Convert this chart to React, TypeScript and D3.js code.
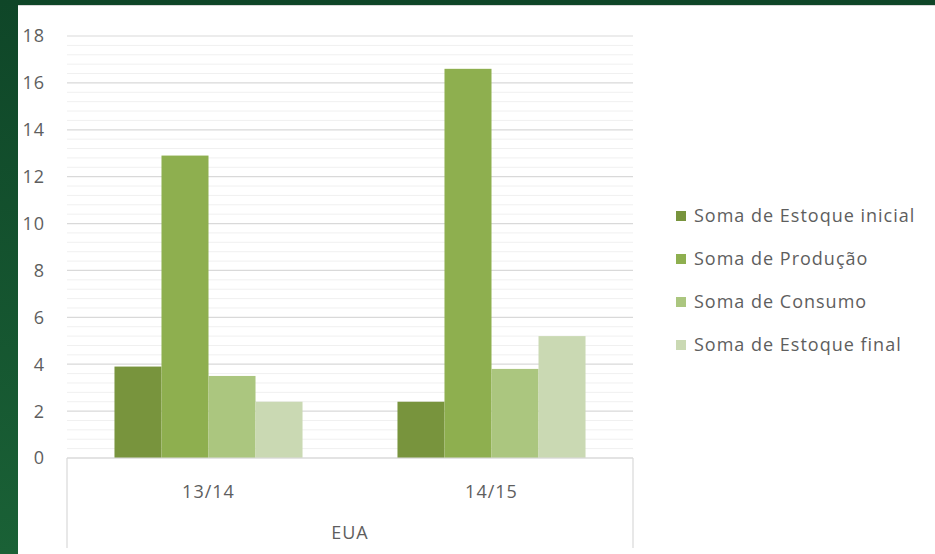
import React from "react";
import * as d3 from "d3";

const categories = ["13/14", "14/15"];
const groupLabel = "EUA";
const seriesNames = [
  "Soma de Estoque inicial",
  "Soma de Produção",
  "Soma de Consumo",
  "Soma de Estoque final",
];
const estoqueInicial = [3.9, 2.4];
const producao = [12.9, 16.6];
const consumo = [3.5, 3.8];
const estoqueFinal = [2.4, 5.2];
const yTicks = [0, 2, 4, 6, 8, 10, 12, 14, 16, 18];
const colors = ["#78943d", "#8eaf4f", "#abc67f", "#cad9b3"];

const W = 935;
const H = 554;
const plotLeft = 67;
const plotRight = 633;
const plotTop = 36;
const plotBottom = 458;
const font = "'Open Sans', 'Noto Sans', sans-serif";
const textColor = "#5e5e5e";

export default function App() {
  const seriesValues = [estoqueInicial, producao, consumo, estoqueFinal];
  const y = d3.scaleLinear().domain([0, 18]).range([plotBottom, plotTop]);
  const x0 = d3.scaleBand<string>().domain(categories).range([plotLeft, plotRight]);
  const x1 = d3
    .scaleBand<string>()
    .domain(seriesNames)
    .range([0, x0.bandwidth()])
    .paddingInner(0)
    .paddingOuter(1.01);
  const minorTicks = d3.range(0, 18.001, 0.4).filter((v) => Math.abs(v / 2 - Math.round(v / 2)) > 0.01);

  return (
    <svg
      width={W}
      height={H}
      style={{ position: "absolute", left: 0, top: 0, display: "block" }}
      fontFamily={font}
    >
      <defs>
        <linearGradient id="bg" x1="0" y1="0" x2="0" y2="1">
          <stop offset="0" stopColor="#0f4628" />
          <stop offset="1" stopColor="#1a6136" />
        </linearGradient>
      </defs>
      <rect x={0} y={0} width={W} height={H} fill="url(#bg)" />
      <rect x={18} y={5} width={W - 18} height={H - 5} fill="#ffffff" />
      <line x1={18} x2={W} y1={5.5} y2={5.5} stroke="#d8d8d8" strokeWidth={1} />

      {/* minor gridlines */}
      {minorTicks.map((t) => (
        <line
          key={"m" + t}
          x1={plotLeft}
          x2={plotRight}
          y1={y(t)}
          y2={y(t)}
          stroke="#f0f0f0"
          strokeWidth={1}
        />
      ))}
      {/* major gridlines */}
      {yTicks.map((t) => (
        <line
          key={"g" + t}
          x1={plotLeft}
          x2={plotRight}
          y1={y(t)}
          y2={y(t)}
          stroke="#d9d9d9"
          strokeWidth={1.2}
        />
      ))}

      {/* bars */}
      {categories.map((c, ci) =>
        seriesNames.map((s, si) => (
          <rect
            key={c + s}
            x={(x0(c) as number) + (x1(s) as number)}
            y={y(seriesValues[si][ci])}
            width={x1.bandwidth()}
            height={plotBottom - y(seriesValues[si][ci])}
            fill={colors[si]}
          />
        ))
      )}

      {/* y tick labels */}
      {yTicks.map((t) => (
        <text
          key={"t" + t}
          x={45}
          y={y(t)}
          dy="0.36em"
          textAnchor="end"
          fontSize={18}
          letterSpacing={1}
          fill={textColor}
        >
          {t}
        </text>
      ))}

      {/* category axis box */}
      <line x1={plotLeft} x2={plotRight} y1={plotBottom} y2={plotBottom} stroke="#d9d9d9" strokeWidth={1.2} />
      <line x1={plotLeft} x2={plotLeft} y1={plotBottom} y2={548} stroke="#d9d9d9" strokeWidth={1.2} />
      <line x1={plotRight} x2={plotRight} y1={plotBottom} y2={548} stroke="#d9d9d9" strokeWidth={1.2} />

      {categories.map((c) => (
        <text
          key={"c" + c}
          x={(x0(c) as number) + x0.bandwidth() / 2}
          y={492}
          dy="0.36em"
          textAnchor="middle"
          fontSize={18}
          letterSpacing={1}
          fill={textColor}
        >
          {c}
        </text>
      ))}
      <text
        x={(plotLeft + plotRight) / 2}
        y={533}
        dy="0.36em"
        textAnchor="middle"
        fontSize={18}
        letterSpacing={1}
        fill={textColor}
      >
        {groupLabel}
      </text>

      {/* legend */}
      {seriesNames.map((s, i) => (
        <g key={"l" + s} transform={`translate(676, ${216 + i * 43})`}>
          <rect x={0} y={-5} width={10} height={10} fill={colors[i]} />
          <text x={18} y={0} dy="0.36em" fontSize={18} letterSpacing={1} fill={textColor}>
            {s}
          </text>
        </g>
      ))}
    </svg>
  );
}
